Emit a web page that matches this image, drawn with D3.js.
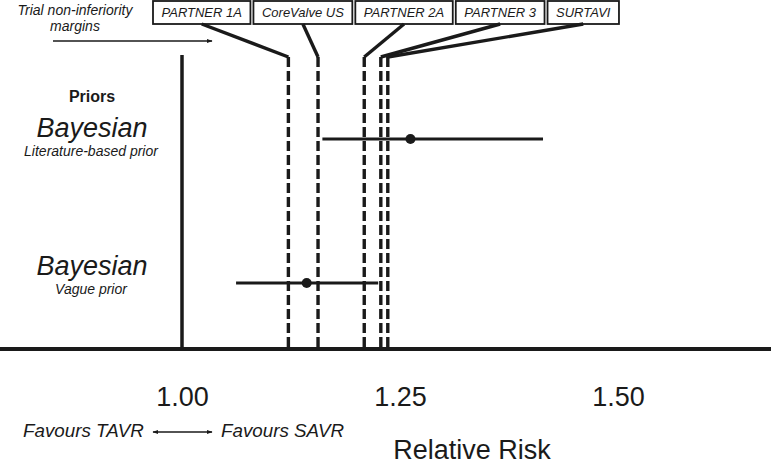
<!DOCTYPE html>
<html>
<head>
<meta charset="utf-8">
<script src="https://cdn.jsdelivr.net/npm/d3@7"></script>
<style>
  html, body { margin: 0; padding: 0; background: #fff; }
  svg { display: block; font-family: "Liberation Sans", Arial, sans-serif; }
</style>
</head>
<body>
<svg id="chart" width="771" height="465"></svg>
<script>
// ---- data ----
const trials = ["PARTNER 1A", "CoreValve US", "PARTNER 2A", "PARTNER 3", "SURTAVI"];
const margins = [1.122, 1.156, 1.209, 1.228, 1.236];
const priorNames = ["Literature-based prior", "Vague prior"];
const estimates = [1.262, 1.143];
const lowerCI = [1.161, 1.062];
const upperCI = [1.414, 1.225];
const tickValues = [1.00, 1.25, 1.50];
const refValue = 1.00;

// ---- layout ----
const W = 771, H = 465;
const ink = "#1a1a1a";
const svg = d3.select("#chart");
const x = d3.scaleLinear().domain([1.0, 1.5]).range([182, 618]);
const y = d3.scaleOrdinal().domain(priorNames).range([139, 283]);
const axisY = 349, topY = 55;

const defs = svg.append("defs");
function arrowMarker(id, orient) {
  defs.append("marker").attr("id", id)
    .attr("viewBox", "0 0 10 10").attr("refX", 9).attr("refY", 5)
    .attr("markerWidth", 6).attr("markerHeight", 6)
    .attr("markerUnits", "userSpaceOnUse")
    .attr("orient", orient)
    .append("path").attr("d", "M0,1.5 L10,5 L0,8.5 Z").attr("fill", ink);
}
arrowMarker("arr", "auto");
arrowMarker("arrStart", "auto-start-reverse");

// reference line at RR = 1
svg.append("line")
  .attr("x1", x(refValue)).attr("x2", x(refValue))
  .attr("y1", topY).attr("y2", axisY)
  .attr("stroke", ink).attr("stroke-width", 3.5);

// dashed margin lines
svg.append("g").selectAll("line").data(margins).join("line")
  .attr("x1", d => x(d)).attr("x2", d => x(d))
  .attr("y1", 57).attr("y2", axisY)
  .attr("stroke", ink).attr("stroke-width", 3.4)
  .attr("stroke-dasharray", "10,4");

// trial label boxes
const boxG = svg.append("g");
let cursor = 153;
const boxCenters = [];
trials.forEach((t, i) => {
  const g = boxG.append("g");
  const txt = g.append("text").text(t)
    .attr("font-size", 13).attr("font-style", "italic").attr("fill", ink)
    .attr("y", 17);
  const w = txt.node().getComputedTextLength() + 17;
  g.insert("rect", "text")
    .attr("x", cursor).attr("y", 1).attr("width", w).attr("height", 23)
    .attr("fill", "#fff").attr("stroke", ink).attr("stroke-width", 1.8);
  txt.attr("x", cursor + w / 2).attr("text-anchor", "middle");
  boxCenters.push(cursor + w / 2);
  cursor += w + 3;
});

// leader lines from boxes to margin lines
svg.append("g").selectAll("line").data(margins).join("line")
  .attr("x1", (d, i) => boxCenters[i]).attr("y1", 24)
  .attr("x2", d => x(d)).attr("y2", 57)
  .attr("stroke", ink).attr("stroke-width", 3.4)
  .attr("stroke-linecap", "butt");

// credible intervals
const ci = svg.append("g");
ci.selectAll("line").data(priorNames).join("line")
  .attr("x1", (d, i) => x(lowerCI[i])).attr("x2", (d, i) => x(upperCI[i]))
  .attr("y1", d => y(d)).attr("y2", d => y(d))
  .attr("stroke", ink).attr("stroke-width", 3);
ci.selectAll("circle").data(priorNames).join("circle")
  .attr("cx", (d, i) => x(estimates[i])).attr("cy", d => y(d))
  .attr("r", 5).attr("fill", ink);

// horizontal axis line (full width)
svg.append("line")
  .attr("x1", 0).attr("x2", W).attr("y1", axisY).attr("y2", axisY)
  .attr("stroke", ink).attr("stroke-width", 4);

// tick labels via d3 axis
const axisG = svg.append("g").attr("transform", `translate(0,${axisY})`)
  .call(d3.axisBottom(x).tickValues(tickValues).tickFormat(d3.format(".2f")).tickSize(0));
axisG.select(".domain").remove();
axisG.selectAll("text")
  .attr("y", 57).attr("dy", 0)
  .attr("font-size", 27).attr("fill", ink)
  .attr("font-family", "'Liberation Sans', Arial, sans-serif");

// axis title
svg.append("text").text("Relative Risk")
  .attr("x", 472).attr("y", 459).attr("text-anchor", "middle")
  .attr("font-size", 27).attr("fill", ink);

// favours labels
svg.append("text").text("Favours TAVR")
  .attr("x", 23).attr("y", 437)
  .attr("font-size", 18.8).attr("font-style", "italic").attr("fill", ink);
svg.append("text").text("Favours SAVR")
  .attr("x", 221).attr("y", 437)
  .attr("font-size", 18.8).attr("font-style", "italic").attr("fill", ink);
svg.append("line")
  .attr("x1", 153).attr("x2", 212).attr("y1", 432).attr("y2", 432)
  .attr("stroke", ink).attr("stroke-width", 1.3)
  .attr("marker-start", "url(#arrStart)").attr("marker-end", "url(#arr)");

// trial non-inferiority margins annotation
svg.append("text").text("Trial non-inferiority")
  .attr("x", 75).attr("y", 15).attr("text-anchor", "middle")
  .attr("font-size", 14).attr("font-style", "italic").attr("fill", ink);
svg.append("text").text("margins")
  .attr("x", 75).attr("y", 31).attr("text-anchor", "middle")
  .attr("font-size", 14).attr("font-style", "italic").attr("fill", ink);
svg.append("line")
  .attr("x1", 53).attr("x2", 212).attr("y1", 41).attr("y2", 41)
  .attr("stroke", ink).attr("stroke-width", 1.3)
  .attr("marker-end", "url(#arr)");

// priors labels
svg.append("text").text("Priors")
  .attr("x", 92).attr("y", 102).attr("text-anchor", "middle")
  .attr("font-size", 16).attr("font-weight", "bold").attr("fill", ink);
const lab = svg.append("g");
const titleBase = [137, 275];
const subBase = [156, 294];
priorNames.forEach((p, i) => {
  lab.append("text").text("Bayesian")
    .attr("x", 92).attr("y", titleBase[i]).attr("text-anchor", "middle")
    .attr("font-size", 27).attr("font-style", "italic").attr("fill", ink);
  lab.append("text").text(p)
    .attr("x", 91).attr("y", subBase[i]).attr("text-anchor", "middle")
    .attr("font-size", 14).attr("font-style", "italic").attr("fill", ink);
});
</script>
</body>
</html>
